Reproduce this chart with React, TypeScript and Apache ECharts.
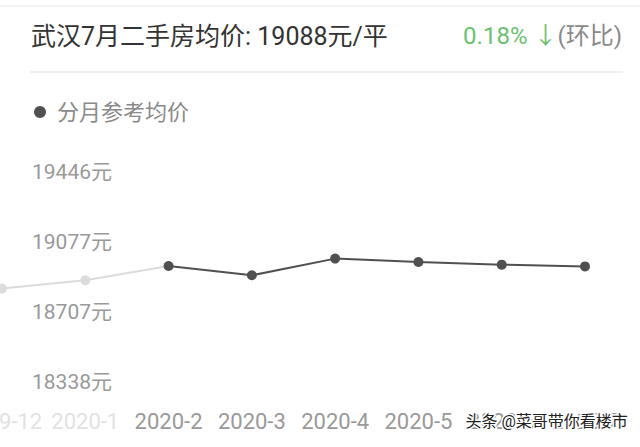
import React, { useEffect, useRef } from "react";
import * as echarts from "echarts";

const categories = ["2019-12", "2020-1", "2020-2", "2020-3", "2020-4", "2020-5", "2020-6", "2020-7"];
const prices = [18831, 18875, 18950, 18901, 18989, 18971, 18957, 18948];
const yTicks = [18338, 18707, 19077, 19446];
const fadedCount = 2;
const titleText = "武汉7月二手房均价: 19088元/平";
const changeText = "0.18% ↓";
const changeNote = "(环比)";
const seriesName = "分月参考均价";
const watermark = "头条 @菜哥带你看楼市";

const FONT = "Roboto, 'Noto Sans CJK SC', sans-serif";

export default function App() {
  const ref = useRef<HTMLDivElement>(null);
  useEffect(() => {
    if (!ref.current) return;
    const chart = echarts.init(ref.current, null, { renderer: "svg" });
    chart.setOption({
      animation: false,
      backgroundColor: "#ffffff",
      textStyle: { fontFamily: FONT },
      title: [
        {
          text: titleText,
          left: 31,
          top: 24,
          padding: 0,
          textStyle: { fontSize: 25, fontWeight: "normal", color: "#333333", fontFamily: FONT },
        },
        {
          text: "{g|" + changeText + "}{h|" + changeNote + "}",
          right: 18,
          top: 24,
          padding: 0,
          textStyle: {
            fontFamily: FONT,
            fontWeight: "normal",
            rich: {
              g: { fontSize: 24, fontWeight: "normal", color: "#6cc070", fontFamily: FONT },
              h: { fontSize: 24, fontWeight: "normal", color: "#8a8a8a", fontFamily: FONT },
            },
          },
        },
      ],
      legend: {
        left: 34,
        top: 101,
        icon: "circle",
        itemWidth: 12,
        itemHeight: 12,
        padding: 0,
        data: [{ name: seriesName, itemStyle: { color: "#505050" } }],
        textStyle: { fontSize: 22, color: "#8a8a8a", fontFamily: FONT, padding: [0, 0, 0, 6] },
      },
      grid: { left: 2, right: 55, top: 172, bottom: 65, containLabel: false, outerBoundsMode: "none" },
      visualMap: {
        show: false,
        type: "piecewise",
        dimension: 0,
        seriesIndex: 0,
        pieces: [
          { gte: -1, lt: fadedCount - 0.5, color: "#dcdcdc" },
          { gte: fadedCount - 0.5, lte: categories.length + 1, color: "#505050" },
        ],
      },
      xAxis: {
        type: "category",
        data: categories,
        boundaryGap: false,
        axisLine: { show: false },
        axisTick: { show: false },
        splitLine: { show: false },
        axisLabel: {
          interval: 0,
          margin: 28,
          fontSize: 22,
          fontFamily: FONT,
          hideOverlap: false,
          color: (_v: string, i: number) => (i < fadedCount ? "#e2e2e2" : "#999999"),
        },
      },
      yAxis: {
        type: "value",
        min: yTicks[0],
        max: yTicks[yTicks.length - 1],
        axisLine: { show: false },
        axisTick: { show: false },
        splitLine: { show: false },
        axisLabel: {
          inside: true,
          align: "left",
          margin: 30,
          fontSize: 21,
          fontFamily: FONT,
          color: "#999999",
          customValues: yTicks,
          formatter: (v: number) => v + "元",
        },
      },
      series: [
        {
          name: seriesName,
          type: "line",
          data: prices,
          symbol: "circle",
          symbolSize: 10,
          lineStyle: { width: 2 },
          itemStyle: { color: "#505050" },
        },
      ],
      graphic: [
        { type: "line", shape: { x1: 0, y1: 6, x2: 640, y2: 6 }, style: { stroke: "#f0f0f0", lineWidth: 1.5 } },
        { type: "line", shape: { x1: 30, y1: 72, x2: 623, y2: 72 }, style: { stroke: "#ebebeb", lineWidth: 1.5 } },
        {
          type: "text",
          left: 464,
          top: 412,
          z: 100,
          style: {
            text: watermark,
            fontSize: 16,
            fontFamily: FONT,
            fill: "#222222",
            stroke: "#ffffff",
            lineWidth: 3,
          },
        },
      ],
    });
    return () => chart.dispose();
  }, []);
  return <div ref={ref} style={{ position: "fixed", left: 0, top: 0, width: 640, height: 447 }} />;
}
